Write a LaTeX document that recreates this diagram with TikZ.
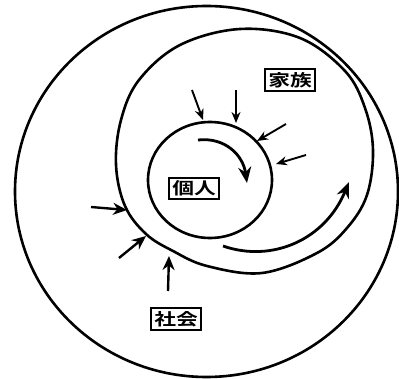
\documentclass[tikz,border=0pt]{standalone}
\usepackage{fontspec}
\usepackage{graphicx}
\newfontfamily\cjk{Noto Sans CJK JP}[BoldFont={Noto Sans CJK JP Bold}]
\usetikzlibrary{arrows.meta}
\newcommand{\widetext}[1]{\scalebox{1.45}[1.1]{#1}}
\begin{document}
\begin{tikzpicture}[x=1pt,y=-1pt,
  ring/.style={draw,line width=2.6pt},
  lbl/.style={draw,line width=1.8pt,inner xsep=3pt,inner ysep=3pt,font=\cjk\bfseries\fontsize{15}{15}\selectfont},
  small/.style={line width=1.9pt,-{Stealth[length=11pt,width=9pt]}},
  big/.style={line width=2.4pt,-{Stealth[length=14pt,width=12pt]}},
  curv/.style={line width=2.8pt,-{Stealth[length=16pt,width=13pt]}}]
\useasboundingbox (0,0) rectangle (399,379);
\draw[ring] (206.5,191.5) ellipse [x radius=191.5, y radius=185.5];
\draw[ring] plot[smooth cycle,tension=0.6] coordinates {(240,29) (300,38) (345,71) (365,108) (373,150) (367,195) (347,228) (317,253) (262,273) (207,266) (173,251) (146,234) (125,206) (116,165) (121,120) (139,80) (180,45)};
\draw[ring] (210,180) ellipse [x radius=62, y radius=58];
\node[lbl] (kazoku) at (290,80) {\widetext{家族}};
\node[lbl] (kojin) at (194,188.5) {\widetext{個人}};
\node[lbl] (shakai) at (176,319) {\widetext{社会}};
% small arrows to inner
\coordinate (a1s) at (192,90); \coordinate (a1e) at (203,120);
\coordinate (a2s) at (236,90); \coordinate (a2e) at (236,123);
\coordinate (a3s) at (286,124); \coordinate (a3e) at (257,141);
\coordinate (a4s) at (306,155); \coordinate (a4e) at (276,164);
\draw[small] (a1s) -- (a1e);
\draw[small] (a2s) -- (a2e);
\draw[small] (a3s) -- (a3e);
\draw[small] (a4s) -- (a4e);
% big arrows to middle
\coordinate (b1s) at (91,207); \coordinate (b1e) at (127,210);
\coordinate (b2s) at (119,258); \coordinate (b2e) at (146,236);
\coordinate (b3s) at (168,291); \coordinate (b3e) at (169,256);
\draw[big] (b1s) -- (b1e);
\draw[big] (b2s) -- (b2e);
\draw[big] (b3s) -- (b3e);
% curved arrows
\coordinate (c1s) at (198,140); \coordinate (c1e) at (247,183);
\draw[curv] (c1s) .. controls (225,137) and (243,155) .. (c1e);
\coordinate (c2s) at (223,246); \coordinate (c2e) at (349,182);
\draw[curv] (c2s) .. controls (272,263) and (325,240) .. (c2e);
\end{tikzpicture}
\end{document}
